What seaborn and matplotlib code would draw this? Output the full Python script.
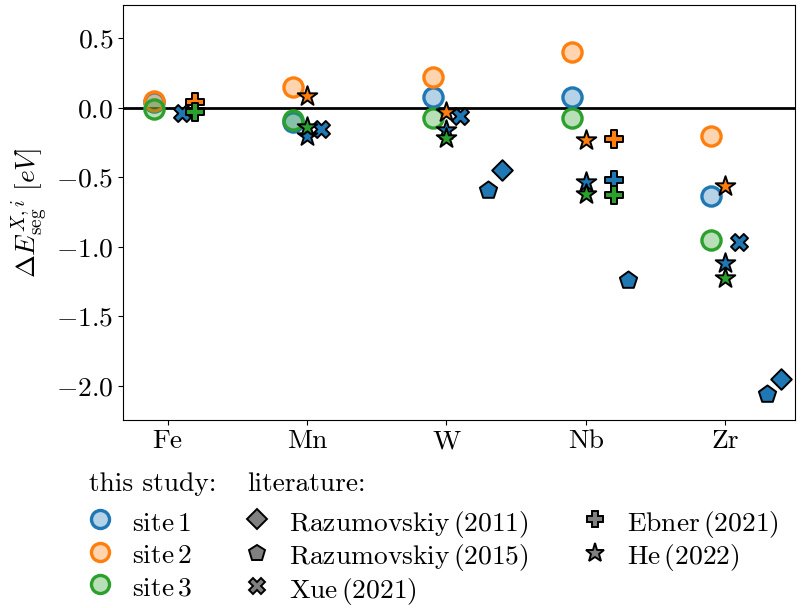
import numpy as np
import pandas as pd
import matplotlib
matplotlib.use("Agg")
import matplotlib.pyplot as plt
from matplotlib.lines import Line2D
from matplotlib.colors import to_rgba
import seaborn as sns

plt.rcParams['font.family'] = 'serif'
plt.rcParams['font.serif'] = ['cmr10']
plt.rcParams['mathtext.fontset'] = 'cm'
plt.rcParams['axes.formatter.use_mathtext'] = True
FS = 19.8
plt.rcParams['font.size'] = FS

elements = ['Fe', 'Mn', 'W', 'Nb', 'Zr']
nan = np.nan
# this study
site1 = [0.04, -0.10, 0.08, 0.08, -0.635]
site2 = [0.05, 0.15, 0.22, 0.40, -0.20]
site3 = [-0.01, -0.09, -0.07, -0.07, -0.95]
# literature
raz2011 = [nan, nan, -0.45, nan, -1.95]
raz2015 = [nan, nan, -0.59, -1.24, -2.055]
xue2021 = [-0.04, -0.155, -0.055, nan, -0.965]
ebner_s1 = [-0.02, nan, nan, -0.52, nan]
ebner_s2 = [0.04, nan, nan, -0.225, nan]
ebner_s3 = [-0.03, nan, nan, -0.63, nan]
he_s1 = [nan, -0.20, -0.16, -0.535, -1.115]
he_s2 = [nan, 0.085, -0.03, -0.23, -0.56]
he_s3 = [nan, -0.14, -0.215, -0.62, -1.225]

c1, c2, c3 = '#1f77b4', '#ff7f0e', '#2ca02c'
site_colors = [c1, c2, c3]

fig = plt.figure(figsize=(8.09, 6.08), dpi=100)
ax = fig.add_axes([123/809, 1-420/608, (795-123)/809, (420-5)/608])

xpos = np.arange(len(elements))

def scat(vals, offset, **kw):
    df = pd.DataFrame({'x': xpos + offset, 'y': vals}).dropna()
    sns.scatterplot(data=df, x='x', y='y', ax=ax, legend=False, **kw)

ax.axhline(0, color='black', lw=2, zorder=1)

for vals, c in zip([site1, site2, site3], site_colors):
    scat(vals, -0.1, marker='o', s=190, color=to_rgba(c, 0.33),
         edgecolor=c, linewidth=2.4, zorder=3)

lit_kw = dict(edgecolor='black', linewidth=1.4, zorder=4)
scat(raz2011, 0.4, marker='D', s=110, color=c1, **lit_kw)
scat(raz2015, 0.3, marker='p', s=170, color=c1, **lit_kw)
scat(xue2021, 0.1, marker='X', s=150, color=c1, **lit_kw)
for vals, c in zip([ebner_s1, ebner_s2, ebner_s3], site_colors):
    scat(vals, 0.2, marker='P', s=150, color=c, **lit_kw)
for vals, c in zip([he_s1, he_s2, he_s3], site_colors):
    scat(vals, 0.0, marker='*', s=220, color=c, **lit_kw)

ax.set_xlim(-0.32, 4.5)
ax.set_ylim(-2.245, 0.74)
ax.set_xticks(xpos)
ax.set_xticklabels(elements)
ax.set_yticks([0.5, 0.0, -0.5, -1.0, -1.5, -2.0])
ax.set_xlabel('')
ax.set_ylabel(r'$\Delta E_{\mathrm{seg}}^{X,i}\ [eV]$', fontsize=FS)
ax.tick_params(labelsize=FS)

# legend
def circ(c):
    return Line2D([], [], ls='', marker='o', markersize=13, markerfacecolor=to_rgba(c, 0.33),
                  markeredgecolor=c, markeredgewidth=2.4)

def lit(m, ms):
    return Line2D([], [], ls='', marker=m, markersize=ms, markerfacecolor='grey',
                  markeredgecolor='black', markeredgewidth=1.4)

leg_kw = dict(loc='upper left', frameon=False, borderpad=0, borderaxespad=0,
              handlelength=0.6, handletextpad=0.85, handleheight=1.2, fontsize=FS)

fig.legend([circ(c1), circ(c2), circ(c3)],
           [r'site$\,$1', r'site$\,$2', r'site$\,$3'],
           bbox_to_anchor=(91.7/809, 1-507.5/608), labelspacing=0.145, **leg_kw)
fig.legend([lit('D', 10), lit('p', 12), lit('X', 11)],
           [r'Razumovskiy$\,$(2011)', r'Razumovskiy$\,$(2015)', r'Xue$\,$(2021)'],
           bbox_to_anchor=(248.7/809, 1-507.5/608), labelspacing=0.04, **leg_kw)
fig.legend([lit('P', 11), lit('*', 14)],
           [r'Ebner$\,$(2021)', r'He$\,$(2022)'],
           bbox_to_anchor=(586.7/809, 1-507.5/608), labelspacing=0.04, **leg_kw)

fig.text(89/809, 1-484/608, 'this study:', fontsize=FS, va='center', ha='left')
fig.text(247/809, 1-484/608, 'literature:', fontsize=FS, va='center', ha='left')

fig.savefig('out.png', dpi=100)
